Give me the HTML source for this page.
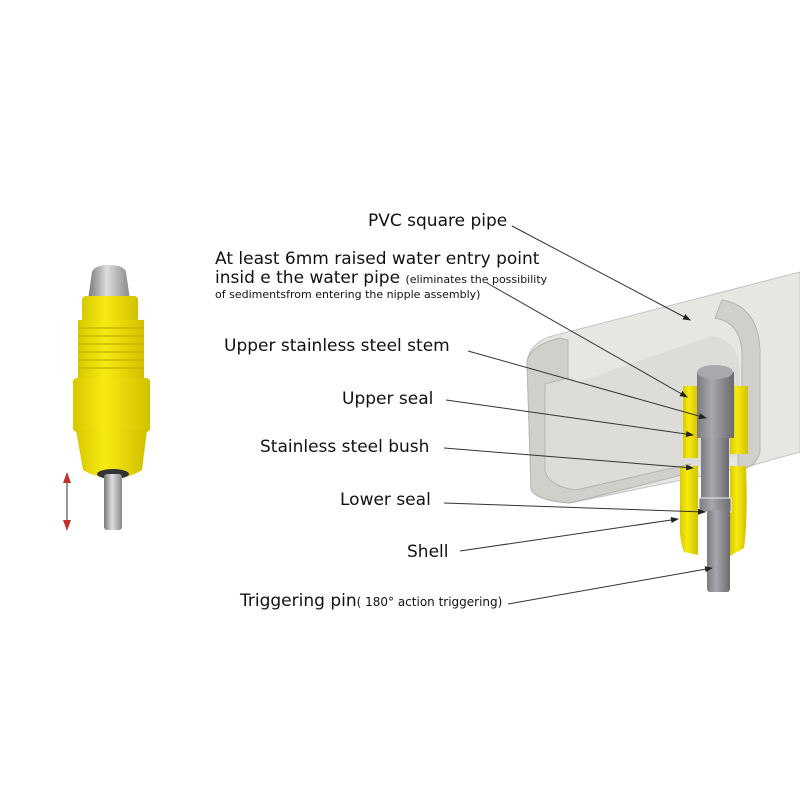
<!DOCTYPE html>
<html><head><meta charset="utf-8"><style>
html,body{margin:0;padding:0;background:#fff;width:800px;height:800px;overflow:hidden}
svg text{font-family:"DejaVu Sans","Liberation Sans",sans-serif;fill:#111}
</style></head><body>
<svg width="800" height="800" viewBox="0 0 800 800" xmlns="http://www.w3.org/2000/svg">
<defs>
<marker id="a" markerWidth="8" markerHeight="6" refX="7" refY="3" orient="auto"><path d="M0,0 L8,3 L0,6 z" fill="#222"/></marker>
<linearGradient id="st" x1="0" x2="1"><stop offset="0" stop-color="#7c7c80"/><stop offset="0.4" stop-color="#a8a8ac"/><stop offset="1" stop-color="#6a6a6e"/></linearGradient>
<linearGradient id="yl" x1="0" x2="1"><stop offset="0" stop-color="#d8c800"/><stop offset="0.4" stop-color="#f7ea10"/><stop offset="1" stop-color="#d2c000"/></linearGradient>
<linearGradient id="pin" x1="0" x2="1"><stop offset="0" stop-color="#777"/><stop offset="0.45" stop-color="#ddd"/><stop offset="1" stop-color="#888"/></linearGradient>
</defs>

<!-- Nipple photo -->
<path d="M88,300 L92,272 Q95,265 108,265 Q124,265 126,272 L130,300 Z" fill="url(#pin)"/>
<rect x="82" y="296" width="56" height="26" rx="4" fill="url(#yl)"/>
<rect x="78" y="320" width="66" height="60" fill="url(#yl)"/>
<g stroke="#c9b800" stroke-width="1.5">
<line x1="78" y1="328" x2="144" y2="328"/><line x1="78" y1="336" x2="144" y2="336"/><line x1="78" y1="344" x2="144" y2="344"/><line x1="78" y1="352" x2="144" y2="352"/><line x1="78" y1="360" x2="144" y2="360"/><line x1="78" y1="368" x2="144" y2="368"/></g>
<rect x="73" y="378" width="77" height="54" rx="4" fill="url(#yl)"/>
<path d="M76,430 L147,430 L142,470 Q130,478 113,478 Q96,478 83,470 Z" fill="url(#yl)"/>
<ellipse cx="113" cy="474" rx="16" ry="5" fill="#333"/>
<rect x="104" y="474" width="18" height="56" rx="3" fill="url(#pin)"/>
<line x1="67" y1="473" x2="67" y2="530" stroke="#333" stroke-width="1"/>
<path d="M63,483 L67,472 L71,483 Z M63,520 L67,531 L71,520 Z" fill="#c0302a"/>

<!-- Pipe body -->
<path d="M527,362 Q530,340 560,334 L800,272 L800,452 L750,466 L570,503 Q533,500 531,488 Z" fill="#e6e6e2" stroke="#c4c4c0" stroke-width="1"/>
<!-- inner cavity -->
<path d="M545,382 L570,376 L578,382 L712,336 Q738,340 740,370 L740,450 Q735,462 690,468 L578,490 Q548,486 546,468 Z" fill="#dcdcd8"/>
<!-- cut faces -->
<path d="M527,362 Q530,345 560,338 L568,340 L568,378 L545,384 L545,470 Q548,486 576,490 L690,464 L690,473 L570,503 Q533,500 531,488 Z" fill="#cfcfcb" stroke="#b4b4b0" stroke-width="1"/>
<path d="M715,318 L722,300 Q758,306 760,350 L760,452 Q756,468 738,470 L738,452 L742,448 L742,352 Q740,322 715,318 Z" fill="#cfcfcb" stroke="#b4b4b0" stroke-width="1"/>

<!-- yellow upper thread -->
<rect x="683" y="386" width="15" height="72" fill="url(#yl)"/>
<rect x="730" y="386" width="18" height="68" fill="url(#yl)"/>
<!-- lower shell -->
<path d="M680,466 L698,466 L698,555 L684,552 Q679,540 680,520 Z" fill="url(#yl)"/>
<path d="M730,466 L746,466 Q748,520 744,548 L730,556 Z" fill="url(#yl)"/>
<!-- stem -->
<rect x="697" y="372" width="37" height="66" fill="url(#st)"/>
<ellipse cx="715" cy="372" rx="18" ry="7" fill="#a9a9ad"/>
<rect x="701" y="438" width="28" height="66" fill="url(#st)"/>
<rect x="699" y="498" width="32" height="14" fill="url(#st)" stroke="#eee" stroke-width="1"/>
<rect x="707" y="510" width="23" height="82" rx="3" fill="url(#st)"/>

<!-- labels -->
<text x="368" y="226" font-size="17">PVC square pipe</text>
<text x="215" y="264" font-size="17">At least 6mm raised water entry point</text>
<text x="215" y="283" font-size="17">insid e the water pipe <tspan font-size="11">(eliminates the possibility</tspan></text>
<text x="215" y="298" font-size="11">of  sedimentsfrom entering the nipple assembly)</text>
<text x="224" y="351" font-size="17">Upper stainless steel stem</text>
<text x="342" y="404" font-size="17">Upper seal</text>
<text x="260" y="452" font-size="17">Stainless steel bush</text>
<text x="340" y="505" font-size="17">Lower seal</text>
<text x="407" y="557" font-size="17">Shell</text>
<text x="240" y="606" font-size="17">Triggering pin<tspan font-size="12">( 180° action triggering)</tspan></text>

<!-- leaders -->
<g stroke="#333" stroke-width="1" marker-end="url(#a)" fill="none">
<line x1="512" y1="226" x2="690" y2="320"/>
<line x1="487" y1="283" x2="687" y2="397"/>
<line x1="468" y1="351" x2="706" y2="418"/>
<line x1="446" y1="400" x2="693" y2="435"/>
<line x1="444" y1="448" x2="693" y2="468"/>
<line x1="444" y1="503" x2="705" y2="512"/>
<line x1="460" y1="551" x2="678" y2="519"/>
<line x1="508" y1="604" x2="712" y2="568"/>
</g>
</svg>
</body></html>
